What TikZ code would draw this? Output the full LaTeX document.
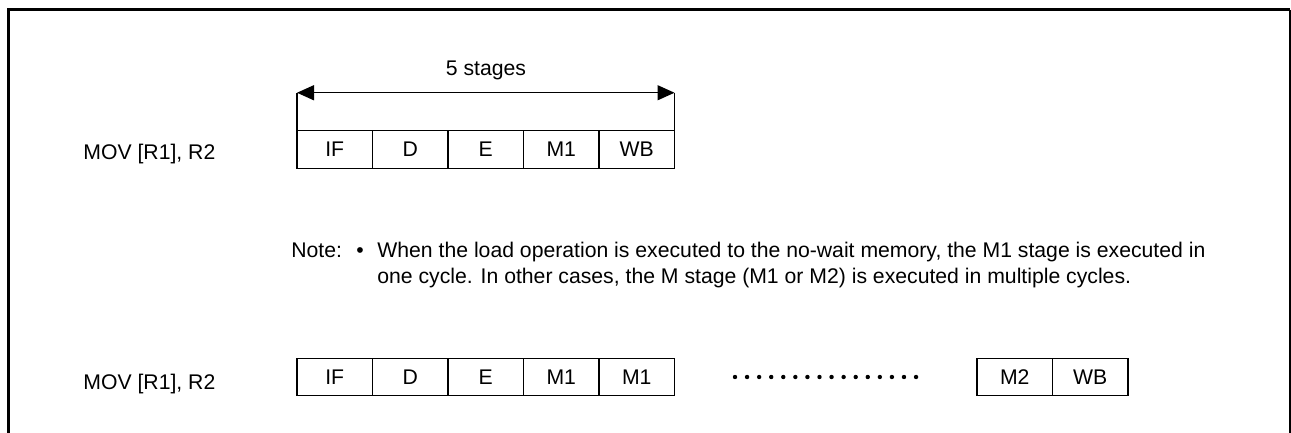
\documentclass[tikz,border=0pt]{standalone}
\usepackage{fontspec}
\setmainfont{Liberation Sans}
\usetikzlibrary{positioning,arrows.meta}
\tikzset{
  stage/.style={draw,line width=0.7pt,minimum width=37.75pt,minimum height=18.75pt,inner sep=0pt,outer sep=0pt},
  frameline/.style={line width=1.5pt},
  span/.style={line width=0.7pt,{Triangle[length=8.5pt,width=7.5pt]}-{Triangle[length=8.5pt,width=7.5pt]}}
}
\begin{document}
\begin{tikzpicture}[x=0.5pt,y=-0.5pt,inner sep=0pt,font=\fontsize{10.6}{13}\selectfont]
      \useasboundingbox (0,0) rectangle (1291,433);
      \draw[frameline] (8,433) -- (8,10) -- (1290,10);
      \draw[line width=0.6pt] (1290,10) -- (1290,433);
      \node[anchor=base west] (mov1) at (83,160) {MOV [R1], R2};
      \node[stage,anchor=west] (if1) at (297,149.5) {IF};
      \node[stage,right=0pt of if1] (d1) {D};
      \node[stage,right=0pt of d1] (e1) {E};
      \node[stage,right=0pt of e1] (ma1) {M1};
      \node[stage,right=0pt of ma1] (wb1) {WB};
      \coordinate (al) at ([yshift=19pt]if1.north west);
      \coordinate (ar) at ([yshift=19pt]wb1.north east);
      \begin{scope}[line width=0.7pt]
        \draw (if1.north west) to (al);
        \draw (wb1.north east) to (ar);
      \end{scope}
      \draw[span] (al) -- (ar);
      \node[anchor=base] (stages) at (486,76) {5 stages};
      \node[anchor=base west] (note) at (291,257) {Note:};
      \node[anchor=base] (bullet) at (360,257) {\textbullet};
      \node[anchor=base west] (line1) at (377,257) {When the load operation is executed to the no-wait memory, the M1 stage is executed in};
      \node[anchor=base west] (line2) at (377,283) {one cycle. In other cases, the M stage (M1 or M2) is executed in multiple cycles.};
      \node[anchor=base west] (mov2) at (83,389) {MOV [R1], R2};
      \node[stage,anchor=west] (if2) at (297,377) {IF};
      \node[stage,right=0pt of if2] (d2) {D};
      \node[stage,right=0pt of d2] (e2) {E};
      \node[stage,right=0pt of e2] (ma2) {M1};
      \node[stage,right=0pt of ma2] (mb2) {M1};
      \foreach \i in {0,...,15}
        \fill (735+12.07*\i,377) circle (1.1pt);
      \node[stage,anchor=west] (mc2) at (977,377) {M2};
      \node[stage,right=0pt of mc2] (wb2) {WB};
    \end{tikzpicture}
\end{document}
